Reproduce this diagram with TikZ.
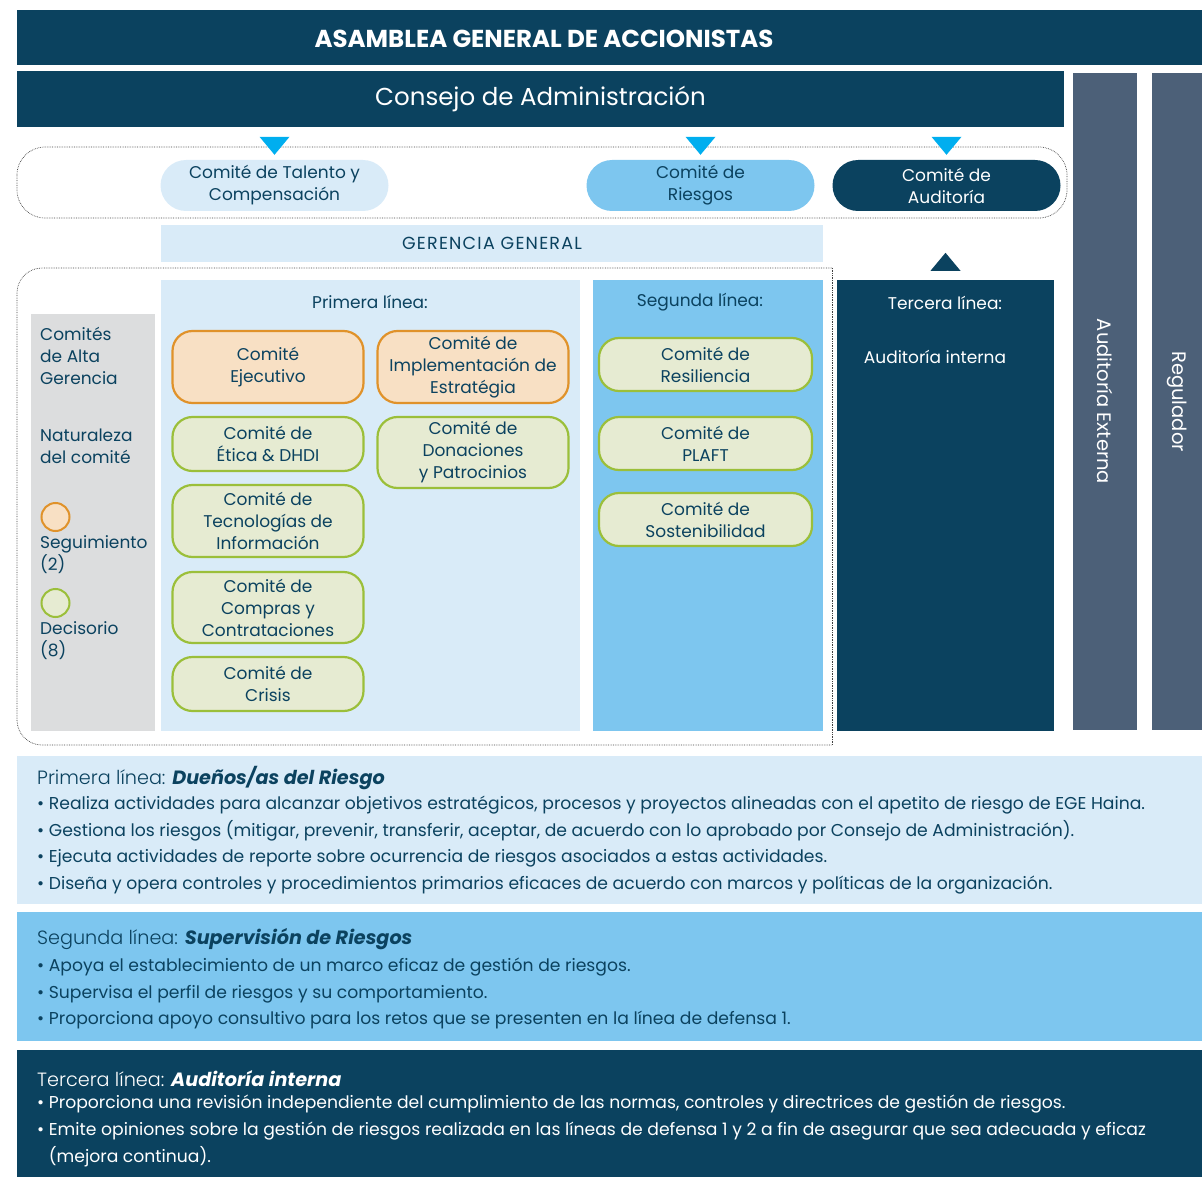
\documentclass[tikz,border=0pt]{standalone}
\usepackage{fontspec}
\setmainfont{Poppins}
\newfontfamily\lightfont{Poppins Light}
\usetikzlibrary{positioning,shapes.misc}
\definecolor{navy}{HTML}{0B425F}
\definecolor{pale}{HTML}{D9EBF8}
\definecolor{sky}{HTML}{7DC6EF}
\definecolor{cyanarrow}{HTML}{00AEEF}
\definecolor{slate}{HTML}{4C6078}
\definecolor{greyband}{HTML}{DCDDDE}
\definecolor{orline}{HTML}{E0922A}
\definecolor{orfill}{HTML}{F8E0C4}
\definecolor{grline}{HTML}{9BBF3A}
\definecolor{grfill}{HTML}{E6EBD2}
\newcommand\fsbox{\fontsize{17}{22}\selectfont}
\newcommand\fsbody{\fontsize{17.2}{26.6}\selectfont}
\newcommand\fstitle{\fontsize{19.2}{22}\selectfont}

\begin{document}
\begin{tikzpicture}[x=1pt,y=-1pt,
	box/.style={rectangle,inner sep=0pt,align=center},
	pill/.style={rounded rectangle,inner sep=0pt,minimum width=228,minimum height=51,align=center,font=\fsbox},
	comi/.style={rectangle,rounded corners=20,line width=2.2,inner sep=0pt,align=center,text=navy,font=\fsbox},
	seg/.style={comi,draw=orline,fill=orfill,minimum width=191},
	dec/.style={comi,draw=grline,fill=grfill,minimum width=191},
	dotline/.style={densely dotted,line width=0.7,draw=black!75},
	txt/.style={inner sep=0pt,align=left,anchor=west}]
		\useasboundingbox (0,0) rectangle (1202,1177);
		\node[box,fill=navy,minimum width=1185,minimum height=55] (asam) at (609.5,37.5) {};
		\node[text=white,font=\bfseries\fontsize{24.5}{28}\selectfont] (asamtxt) at (544,39) {ASAMBLEA GENERAL DE ACCIONISTAS};
		\node[box,fill=navy,text=white,minimum width=1047,minimum height=56,font=\fontsize{24.5}{28}\selectfont] (cons) at (540.5,99.5) {Consejo de Administración};
		\node[box,fill=slate,text=white,rotate=-90,minimum width=657,minimum height=64,font=\fontsize{19.5}{22}\selectfont] (extaud) at (1105,401.5) {Auditoría Externa};
		\node[box,fill=slate,text=white,rotate=-90,minimum width=657,minimum height=50,font=\fontsize{19.5}{22}\selectfont] (regul) at (1177,401.5) {Regulador};
		\draw[dotline,rounded corners=28] (17,147) rectangle (1067,218);
		\node[pill,fill=pale,text=navy] (tal) at (274.5,185.5) {Comité de Talento y\\Compensación};
		\node[pill,fill=sky,text=navy] (ries) at (700.5,185.5) {Comité de\\Riesgos};
		\node[pill,fill=navy,text=white] (aud) at (946.5,185.5) {Comité de\\Auditoría};
		\foreach \n in {tal,ries,aud}
			\fill[cyanarrow] (\n.north) ++(-15,-23) -- ++(30,0) -- ++(-15,18) -- cycle;
		\node[box,fill=pale,text=navy,minimum width=662,minimum height=37,font=\fontsize{17.5}{20}\selectfont\addfontfeature{LetterSpace=7}] (ger) at (492,243.5) {GERENCIA GENERAL};
		\draw[dotline,rounded corners=25] (832,268) -- (17,268) -- (17,745) -- (832,745);
		\draw[dotline] (832,268) -- (832,745);
		\node[box,fill=greyband,minimum width=124,minimum height=417] (leg) at (93,522.5) {};
		\node[box,fill=pale,minimum width=419,minimum height=451] (prim) at (370.5,505.5) {};
		\node[box,fill=sky,minimum width=230,minimum height=451] (segu) at (708,505.5) {};
		\node[box,fill=navy,minimum width=217,minimum height=451] (terc) at (945.5,505.5) {};
		\fill[navy] (terc.north) ++(-15,-9) -- ++(30,0) -- ++(-15,-18) -- cycle;
		\node[text=navy,font=\fsbox] (primtit) at (370,302) {Primera línea:};
		\node[text=navy,font=\fsbox] (segutit) at (700,302) {Segunda línea:};
		\node[text=white,font=\fsbox] (terctit) at (945,303) {Tercera línea:};
		\node[text=white,font=\fsbox] (audint) at (935,357) {Auditoría interna};
		\node[seg,minimum height=72] (ejec) at (268,367) {Comité\\Ejecutivo};
		\node[seg,minimum height=72] (impl) at (473,367) {Comité de\\Implementación de\\Estratégia};
		\node[dec,minimum height=54] (etic) at (268,444) {Comité de\\Ética \& DHDI};
		\node[dec,minimum height=71] (dona) at (473,452.5) {Comité de\\Donaciones\\y Patrocinios};
		\node[dec,minimum height=72] (tecn) at (268,521) {Comité de\\Tecnologías de\\Información};
		\node[dec,minimum height=71] (comp) at (268,607.5) {Comité de\\Compras y\\Contrataciones};
		\node[dec,minimum height=54] (cris) at (268,684) {Comité de\\Crisis};
		\node[dec,minimum width=213,minimum height=53] (resi) at (705.5,364.5) {Comité de\\Resiliencia};
		\node[dec,minimum width=213,minimum height=53] (plaf) at (705.5,443.5) {Comité de\\PLAFT};
		\node[dec,minimum width=213,minimum height=53] (sost) at (705.5,519.5) {Comité de\\Sostenibilidad};
		\node[txt,text=navy,font=\fsbox] (legalta) at (40,356) {Comités\\de Alta\\Gerencia};
		\node[txt,text=navy,font=\fsbox] (legnat) at (40,446) {Naturaleza\\del comité};
		\node[circle,draw=orline,fill=orfill,line width=2,minimum size=28,inner sep=0pt] (cirseg) at (55.5,517) {};
		\node[txt,text=navy,font=\fsbox] (legseg) at (40,555) {Seguimiento\\(2)};
		\node[circle,draw=grline,fill=grfill,line width=2,minimum size=28,inner sep=0pt] (cirdec) at (55.5,603) {};
		\node[txt,text=navy,font=\fsbox] (legdec) at (40,641) {Decisorio\\(8)};
		\node[box,fill=pale,minimum width=1185,minimum height=148] (p1) at (609.5,830) {};
		\node[box,fill=sky,minimum width=1185,minimum height=129] (p2) at (609.5,976.5) {};
		\node[box,fill=navy,minimum width=1185,minimum height=127] (p3) at (609.5,1113.5) {};
		\node[txt,text=navy,font=\fstitle] (p1tit) at (37,778.5) {{\lightfont Primera línea:} \textbf{\itshape Dueños/as del Riesgo}};
		\node[txt,text=navy,font=\fsbody] (p1txt) at (37,845) {• Realiza actividades para alcanzar objetivos estratégicos, procesos y proyectos alineadas con el apetito de riesgo de EGE Haina.\\• Gestiona los riesgos (mitigar, prevenir, transferir, aceptar, de acuerdo con lo aprobado por Consejo de Administración).\\• Ejecuta actividades de reporte sobre ocurrencia de riesgos asociados a estas actividades.\\• Diseña y opera controles y procedimientos primarios eficaces de acuerdo con marcos y políticas de la organización.};
		\node[txt,text=navy,font=\fstitle] (p2tit) at (37,939.5) {{\lightfont Segunda línea:} \textbf{\itshape Supervisión de Riesgos}};
		\node[txt,text=navy,font=\fsbody] (p2txt) at (37,993.5) {• Apoya el establecimiento de un marco eficaz de gestión de riesgos.\\• Supervisa el perfil de riesgos y su comportamiento.\\• Proporciona apoyo consultivo para los retos que se presenten en la línea de defensa 1.};
		\node[txt,text=white,font=\fstitle] (p3tit) at (37,1078.5) {{\lightfont Tercera línea:} \textbf{\itshape Auditoría interna}};
		\node[txt,text=white,font=\fsbody] (p3txt) at (37,1131) {• Proporciona una revisión independiente del cumplimiento de las normas, controles y directrices de gestión de riesgos.\\• Emite opiniones sobre la gestión de riesgos realizada en las líneas de defensa 1 y 2 a fin de asegurar que sea adecuada y eficaz\\\phantom{• }(mejora continua).};
\end{tikzpicture}
\end{document}
